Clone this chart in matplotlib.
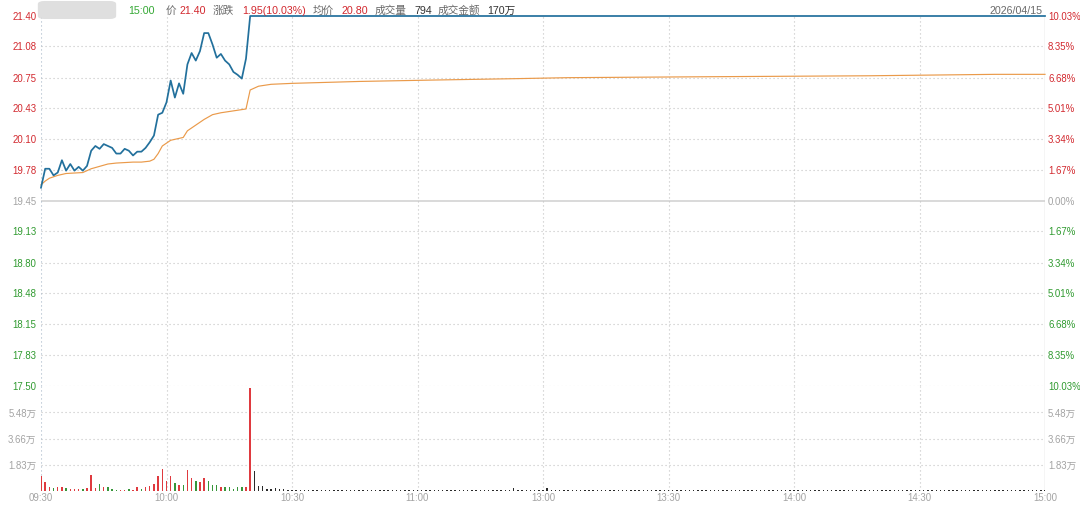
import matplotlib
matplotlib.use("Agg")
import matplotlib.pyplot as plt
from matplotlib.patches import FancyBboxPatch
import matplotlib.transforms as mtransforms

plt.rcParams['font.family'] = ['Liberation Sans', 'Noto Sans CJK SC', 'DejaVu Sans']

# ---------------- data ----------------
time_labels = ["09:30", "10:00", "10:30", "11:00", "13:00", "13:30", "14:00", "14:30", "15:00"]
time_minutes = [0, 30, 60, 90, 120, 150, 180, 210, 240]

price_ticks = [21.40, 21.08, 20.75, 20.43, 20.10, 19.78, 19.45, 19.13, 18.80, 18.48, 18.15, 17.83, 17.50]
price_tick_labels = ["21.40", "21.08", "20.75", "20.43", "20.10", "19.78", "19.45",
                     "19.13", "18.80", "18.48", "18.15", "17.83", "17.50"]
pct_tick_labels = ["10.03%", "8.35%", "6.68%", "5.01%", "3.34%", "1.67%", "0.00%",
                   "1.67%", "3.34%", "5.01%", "6.68%", "8.35%", "10.03%"]
prev_close = 19.45

vol_ticks = [1.83, 3.66, 5.48]
vol_tick_labels = ["1.83万", "3.66万", "5.48万"]

# price line (minute index, price)
price_minutes = list(range(0, 51)) + [240]
price_values = [19.59, 19.79, 19.79, 19.72, 19.75, 19.88, 19.77, 19.84, 19.77, 19.81,
                19.77, 19.82, 19.98, 20.03, 20.00, 20.05, 20.03, 20.01, 19.95, 19.95,
                20.00, 19.98, 19.93, 19.97, 19.97, 20.01, 20.07, 20.14, 20.36, 20.38,
                20.49, 20.72, 20.54, 20.69, 20.58, 20.89, 21.01, 20.93, 21.03, 21.22,
                21.22, 21.10, 20.96, 21.00, 20.93, 20.89, 20.81, 20.78, 20.74, 20.95,
                21.40, 21.40]

# average price line (minute index, price)
avg_minutes = [0, 1, 2, 4, 6, 10, 12, 16, 18, 22, 24, 26, 27, 28, 29, 31, 33, 34, 35, 37,
               39, 41, 43, 46, 49, 50, 52, 55, 60, 76, 94, 114, 126, 160, 198, 228, 240]
avg_values = [19.62, 19.66, 19.69, 19.72, 19.74, 19.75, 19.79, 19.84, 19.85, 19.86, 19.86,
              19.87, 19.89, 19.95, 20.03, 20.09, 20.11, 20.12, 20.19, 20.25, 20.31, 20.36,
              20.38, 20.40, 20.42, 20.62, 20.66, 20.68, 20.69, 20.71, 20.725, 20.74, 20.75,
              20.76, 20.77, 20.785, 20.785]

# volume per minute (万), minute 0..240
volume = [1.03, 0.63, 0.33, 0.23, 0.33, 0.33, 0.23, 0.14, 0.14, 0.16,
          0.14, 0.23, 1.10, 0.23, 0.51, 0.33, 0.28, 0.14, 0.12, 0.12,
          0.12, 0.14, 0.12, 0.28, 0.14, 0.33, 0.38, 0.51, 1.03, 1.57,
          0.75, 1.03, 0.59, 0.47, 0.47, 1.45, 0.94, 0.70, 0.68, 0.89,
          0.75, 0.47, 0.47, 0.28, 0.30, 0.33, 0.16, 0.28, 0.28, 0.33,
          7.20, 1.38, 0.38, 0.40, 0.16, 0.14, 0.23, 0.14, 0.14, 0.12,
          0.09,
          0.09, 0.08, 0.09, 0.07, 0.08, 0.09, 0.07, 0.08, 0.07, 0.09,
          0.08, 0.07, 0.08, 0.07, 0.09, 0.08, 0.07, 0.07, 0.08, 0.07,
          0.08, 0.07, 0.07, 0.08, 0.07, 0.07, 0.08, 0.07, 0.08, 0.07,
          0.07, 0.08, 0.07, 0.07, 0.08, 0.07, 0.07, 0.07, 0.08, 0.07,
          0.07, 0.08, 0.07, 0.07, 0.07, 0.08, 0.07, 0.07, 0.08, 0.07,
          0.07, 0.08, 0.20, 0.10, 0.07, 0.08, 0.07, 0.07, 0.08, 0.07,
          0.20, 0.08, 0.07, 0.07, 0.08, 0.07, 0.07, 0.08, 0.07, 0.07,
          0.07, 0.08, 0.07, 0.07, 0.08, 0.07, 0.07, 0.07, 0.08, 0.07,
          0.07, 0.08, 0.07, 0.07, 0.07, 0.08, 0.07, 0.07, 0.08, 0.07,
          0.08, 0.07, 0.07, 0.08, 0.07, 0.07, 0.07, 0.08, 0.07, 0.07,
          0.08, 0.07, 0.07, 0.07, 0.08, 0.07, 0.07, 0.08, 0.07, 0.07,
          0.07, 0.08, 0.07, 0.07, 0.08, 0.07, 0.07, 0.07, 0.08, 0.07,
          0.07, 0.08, 0.07, 0.07, 0.07, 0.08, 0.07, 0.07, 0.08, 0.07,
          0.08, 0.07, 0.07, 0.08, 0.07, 0.07, 0.07, 0.08, 0.07, 0.07,
          0.08, 0.07, 0.07, 0.07, 0.08, 0.07, 0.07, 0.08, 0.07, 0.07,
          0.07, 0.08, 0.07, 0.07, 0.08, 0.07, 0.07, 0.07, 0.08, 0.12,
          0.08, 0.07, 0.07, 0.07, 0.08, 0.07, 0.07, 0.08, 0.07, 0.08,
          0.07, 0.08, 0.07, 0.07, 0.08, 0.07, 0.07, 0.08, 0.07, 0.09]
# direction of each volume bar: r = up, g = down, k = unchanged
vol_dir = list("rrrgrrgrrrgrrrgrggg" "rrgrrgrrrrrrrgrgrrgrrgggrgggggrr") + ["k"] * 190

header_texts = ["15:00", "价", "21.40", "涨跌", "1.95(10.03%)", "均价", "20.80",
                "成交量", "794", "成交金额", "170万"]
header_kinds = ["g", "n", "r", "n", "r", "n", "r", "n", "d", "n", "d"]
header_date = "2026/04/15"

# ---------------- style ----------------
RED = "#d2282e"
GREEN = "#2f9a2f"
GRAY = "#a3a3a3"
HDR_GRAY = "#6a6a6a"
DARK = "#333333"
BLUE = "#22709c"
ORANGE = "#ea9a4a"
GRID = "#c4c4c4"
DOT = (0, (1, 2.6))
bar_colors = {"r": "#df3a3f", "g": "#37963a", "k": "#2a2a2a"}
hdr_colors = {"g": "#33a833", "n": HDR_GRAY, "r": RED, "d": DARK}

W, H = 1080, 506
fig = plt.figure(figsize=(W / 100, H / 100), dpi=100)
fig.patch.set_facecolor("white")

xl, xr = 41, 1045
p_top, p_bot = 17, 387
v_bot = 492.3
ax = fig.add_axes([xl / W, 1 - p_bot / H, (xr - xl) / W, (p_bot - p_top) / H])
axv = fig.add_axes([xl / W, 1 - v_bot / H, (xr - xl) / W, (v_bot - p_bot) / H])

for a in (ax, axv):
    a.set_xlim(0, 240)
    for s in a.spines.values():
        s.set_visible(False)
    a.set_xticks([])
    a.set_yticks([])
    a.patch.set_alpha(0)

ax.set_ylim(17.50, 21.40)
axv.set_ylim(0, 7.32)

# grid lines
for t in price_ticks:
    if abs(t - prev_close) < 1e-6:
        ax.axhline(t, color="#d0d0d0", lw=1.1, zorder=1)
    elif t in (21.40,):
        continue
    else:
        ax.axhline(t, color=GRID, lw=0.8, ls=DOT, zorder=1)
for t in vol_ticks:
    axv.axhline(t, color=GRID, lw=0.8, ls=DOT, zorder=1)
for m in time_minutes[1:-1]:
    ax.axvline(m, color=GRID, lw=0.8, ls=DOT, zorder=1)
    axv.axvline(m, color=GRID, lw=0.8, ls=DOT, zorder=1)
for a in (ax, axv):
    a.axvline(0, color="#a9b8c8", lw=0.8, ls=DOT, zorder=1)
    a.axvline(240, color="#d0d0d0", lw=1.0, zorder=1)

# lines
ax.plot(avg_minutes, avg_values, color=ORANGE, lw=0.85, zorder=3, clip_on=False)
ax.plot(price_minutes, price_values, color=BLUE, lw=1.25, zorder=4, clip_on=False,
        solid_joinstyle="round")

# volume bars
axv.bar(range(len(volume)), volume, width=0.35, color=[bar_colors[c] for c in vol_dir],
        linewidth=0, zorder=3)

# tick labels
fs = 6.9
tl = mtransforms.blended_transform_factory(ax.transAxes, ax.transData)
for t, lab, pl in zip(price_ticks, price_tick_labels, pct_tick_labels):
    if t > prev_close + 1e-6:
        c = RED
    elif t < prev_close - 1e-6:
        c = GREEN
    else:
        c = GRAY
    ax.text(-0.0045, t, lab, transform=tl, ha="right", va="center", fontsize=fs, color=c)
    ax.text(1.003, t, pl, transform=tl, ha="left", va="center", fontsize=fs, color=c)
tv = mtransforms.blended_transform_factory(axv.transAxes, axv.transData)
for t, lab in zip(vol_ticks, vol_tick_labels):
    axv.text(-0.0045, t, lab, transform=tv, ha="right", va="center", fontsize=fs, color=GRAY)
    axv.text(1.003, t, lab, transform=tv, ha="left", va="center", fontsize=fs, color=GRAY)

tx = mtransforms.blended_transform_factory(axv.transData, axv.transAxes)
for m, lab in zip(time_minutes, time_labels):
    axv.text(m, -0.055, lab, transform=tx, ha="center", va="center", fontsize=fs, color=GRAY)

# header
blur = FancyBboxPatch((40 / W, 1 - 19 / H), 74 / W, 16 / H,
                      boxstyle="round,pad=0.002,rounding_size=0.006",
                      transform=fig.transFigure, facecolor="#dcdcdc", edgecolor="none",
                      alpha=0.9, zorder=5)
fig.patches.append(blur)
header_x = [128, 166, 180, 213, 242, 313, 341, 375, 414, 438, 487]
for x, t, k in zip(header_x, header_texts, header_kinds):
    fig.text(x / W, 1 - 13.5 / H, t, ha="left", va="baseline", fontsize=7.7, color=hdr_colors[k])
fig.text(1043 / W, 1 - 13.5 / H, header_date, ha="right", va="baseline", fontsize=7.7, color=HDR_GRAY)

fig.savefig("out.png", dpi=100, facecolor="white")
